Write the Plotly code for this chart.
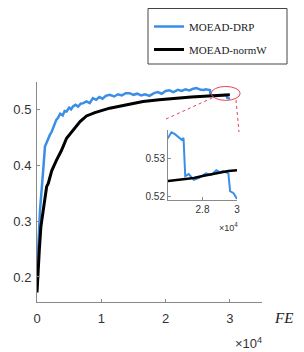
import plotly.graph_objects as go

# FE in units of 1e4
drp_fe = [0, 0.005, 0.02, 0.047, 0.07, 0.1, 0.124, 0.15, 0.175, 0.2, 0.23, 0.26, 0.3, 0.33, 0.36,
          0.4, 0.43, 0.46, 0.5, 0.53, 0.56, 0.6, 0.64, 0.68, 0.72, 0.77, 0.82, 0.87, 0.92, 0.97,
          1.02, 1.07, 1.13, 1.2, 1.26, 1.32, 1.38, 1.44, 1.5, 1.56, 1.62, 1.68, 1.75, 1.82, 1.88,
          1.94, 2.0, 2.06, 2.12, 2.19, 2.25, 2.31, 2.37, 2.43, 2.48, 2.55, 2.6, 2.62, 2.64, 2.68,
          2.69, 2.7, 2.72, 2.75, 2.78, 2.82, 2.85, 2.88, 2.9, 2.92, 2.95, 2.96, 2.98, 3.0]
drp_val = [0.2, 0.218, 0.254, 0.32, 0.349, 0.397, 0.434, 0.442, 0.449, 0.455, 0.461, 0.47, 0.482,
           0.486, 0.493, 0.49, 0.498, 0.497, 0.504, 0.501, 0.506, 0.509, 0.506, 0.511, 0.512, 0.515,
           0.512, 0.521, 0.518, 0.523, 0.52, 0.525, 0.527, 0.524, 0.528, 0.526, 0.53, 0.53, 0.527,
           0.529, 0.526, 0.528, 0.525, 0.53, 0.532, 0.529, 0.534, 0.535, 0.532, 0.536, 0.534, 0.537,
           0.535, 0.538, 0.539, 0.536, 0.5355, 0.537, 0.5365, 0.535, 0.5355, 0.5255, 0.526, 0.5245,
           0.525, 0.5262, 0.5258, 0.527, 0.5265, 0.5268, 0.5262, 0.5215, 0.521, 0.5195]
normw_fe = [0, 0.01, 0.036, 0.06, 0.1, 0.15, 0.175, 0.23, 0.3, 0.38, 0.46, 0.56, 0.67, 0.77, 0.9,
            1.13, 1.4, 1.65, 1.9, 2.17, 2.4, 2.6, 2.65, 2.7, 2.75, 2.8, 2.85, 2.9, 2.95, 3.0]
normw_val = [0.172, 0.2, 0.248, 0.29, 0.326, 0.362, 0.368, 0.391, 0.409, 0.427, 0.449, 0.464, 0.479,
             0.489, 0.495, 0.503, 0.509, 0.515, 0.518, 0.521, 0.523, 0.5242, 0.5245, 0.5248, 0.525,
             0.5255, 0.526, 0.5265, 0.5268, 0.527]

x_ticks = [0, 1, 2, 3]
y_ticks = [0.2, 0.3, 0.4, 0.5]
inset_x_ticks = [2.8, 3.0]
inset_x_labels = ["2.8", "3"]
inset_y_ticks = [0.52, 0.53]

BLUE = "#3a8ee6"
RED = "#e8405a"
OFF = 8  # page body margin
W, H = 304 - OFF, 352 - OFF
L, R, T, B = 37, 262, 82, 302  # plot area in window pixels


def px(x):
    return (x - L) / (R - L)


def py(y):
    return (B - y) / (B - T)


fig = go.Figure()
fig.add_trace(go.Scatter(x=drp_fe, y=drp_val, mode="lines", name="MOEAD-DRP",
                         line=dict(color=BLUE, width=2.5), legendgroup="a"))
fig.add_trace(go.Scatter(x=normw_fe, y=normw_val, mode="lines", name="MOEAD-normW",
                         line=dict(color="black", width=3), legendgroup="b"))
fig.add_trace(go.Scatter(x=drp_fe, y=drp_val, mode="lines", showlegend=False,
                         line=dict(color=BLUE, width=2), xaxis="x2", yaxis="y2"))
fig.add_trace(go.Scatter(x=normw_fe, y=normw_val, mode="lines", showlegend=False,
                         line=dict(color="black", width=2.5), xaxis="x2", yaxis="y2"))

axis_common = dict(showline=True, linecolor="#8a8a8a", linewidth=1, ticks="inside",
                   tickcolor="#8a8a8a", showgrid=False, zeroline=False, mirror=False)

fig.update_layout(
    width=W, height=H,
    margin=dict(l=L - OFF, r=W - (R - OFF), t=T - OFF, b=H - (B - OFF), autoexpand=False),
    paper_bgcolor="white", plot_bgcolor="white",
    font=dict(family="Liberation Sans, Arial", color="#333"),
    xaxis=dict(range=[0, 3.5], tickvals=x_ticks, ticktext=[str(v) for v in x_ticks],
               ticklen=3, tickfont=dict(size=13), ticklabelstandoff=4, automargin=False,
               **axis_common),
    yaxis=dict(range=[0.155, 0.55], tickvals=y_ticks, ticktext=[f"{v:.1f}" for v in y_ticks],
               ticklen=3, tickfont=dict(size=13), ticklabelstandoff=2, automargin=False,
               **axis_common),
    xaxis2=dict(domain=[px(168), px(237)], anchor="y2", range=[2.6, 3.0],
                tickvals=inset_x_ticks, ticktext=inset_x_labels, ticklen=3,
                tickfont=dict(size=10), automargin=False, **axis_common),
    yaxis2=dict(domain=[py(200), py(130)], anchor="x2", range=[0.5192, 0.5376],
                tickvals=inset_y_ticks, ticktext=[f"{v:.2f}" for v in inset_y_ticks], ticklen=3,
                tickfont=dict(size=10), automargin=False, **axis_common),
    showlegend=True,
    legend=dict(x=px(149), y=py(12), xanchor="left", yanchor="top",
                font=dict(family="Liberation Serif, Times New Roman", size=11, color="#222"),
                bgcolor="rgba(0,0,0,0)", traceorder="grouped", tracegroupgap=4),
)

shapes = [
    dict(type="rect", xref="paper", yref="paper", x0=px(148), x1=px(287), y0=py(64), y1=py(8.5),
         line=dict(color="#444", width=1), fillcolor="rgba(0,0,0,0)", layer="above"),
    dict(type="circle", xref="x", yref="y", x0=2.71, x1=3.16, y0=0.517, y1=0.542,
         line=dict(color=RED, width=1)),
    dict(type="line", xref="paper", yref="paper", x0=px(166), y0=py(119), x1=px(212), y1=py(98),
         line=dict(color=RED, width=1, dash="dot")),
    dict(type="line", xref="paper", yref="paper", x0=px(236), y0=py(100), x1=px(239), y1=py(132),
         line=dict(color=RED, width=1, dash="dot")),
]
fig.update_layout(shapes=shapes)

ann = dict(xref="paper", yref="paper", showarrow=False, xanchor="center", yanchor="middle")
fig.add_annotation(x=px(283), y=py(318), text="<i>FE</i>",
                   font=dict(family="Liberation Serif, Times New Roman", size=15, color="#222"),
                   **ann)
fig.add_annotation(x=px(248), y=py(343), text="×10<sup>4</sup>",
                   font=dict(size=13, color="#333"), **ann)
fig.add_annotation(x=px(228), y=py(227), text="×10<sup>4</sup>",
                   font=dict(size=9, color="#333"), **ann)

fig.write_html("out.html")
